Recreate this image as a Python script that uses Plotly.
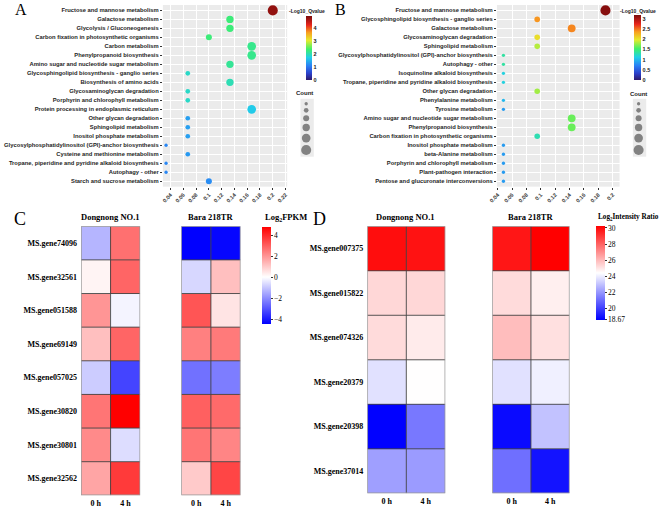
import plotly.graph_objects as go

W, H = 661, 508
def px(x): return x / W
def py(y): return 1 - y / H
def dom_x(a, b): return [px(a), px(b)]
def dom_y(top, bottom): return [py(bottom), py(top)]

SANS = "Liberation Sans, Arial, sans-serif"
SERIF = "Liberation Serif, Times New Roman, serif"

# ---------------- Panel A (KEGG enrichment) ----------------
a_terms = ["Fructose and mannose metabolism", "Galactose metabolism", "Glycolysis / Gluconeogenesis",
           "Carbon fixation in photosynthetic organisms", "Carbon metabolism", "Phenylpropanoid biosynthesis",
           "Amino sugar and nucleotide sugar metabolism", "Glycosphingolipid biosynthesis - ganglio series",
           "Biosynthesis of amino acids", "Glycosaminoglycan degradation", "Porphyrin and chlorophyll metabolism",
           "Protein processing in endoplasmic reticulum", "Other glycan degradation", "Sphingolipid metabolism",
           "Inositol phosphate metabolism", "Glycosylphosphatidylinositol (GPI)-anchor biosynthesis",
           "Cysteine and methionine metabolism", "Tropane, piperidine and pyridine alkaloid biosynthesis",
           "Autophagy - other", "Starch and sucrose metabolism"]
a_ratio = [0.2, 0.133, 0.133, 0.1, 0.167, 0.167, 0.133, 0.067, 0.133, 0.067, 0.067, 0.167, 0.067, 0.067,
           0.067, 0.033, 0.067, 0.033, 0.033, 0.1]
a_count = [6, 4, 4, 3, 5, 5, 4, 2, 4, 2, 2, 5, 2, 2, 2, 1, 2, 1, 1, 3]
a_qval = [4.8, 2.3, 2.3, 2.3, 2.2, 2.2, 2.15, 1.9, 2.0, 1.9, 1.9, 1.7, 1.35, 1.35, 1.35, 1.15, 1.3, 1.15,
          1.15, 1.2]
a_legend_counts = [1, 2, 3, 4, 5, 6]
a_legend_text = ["1", "2", "3", "4", "5", "6"]
a_q_ticks = [0, 1, 2, 3, 4]

# ---------------- Panel B ----------------
b_terms = ["Fructose and mannose metabolism", "Glycosphingolipid biosynthesis - ganglio series",
           "Galactose metabolism", "Glycosaminoglycan degradation", "Sphingolipid metabolism",
           "Glycosylphosphatidylinositol (GPI)-anchor biosynthesis", "Autophagy - other",
           "Isoquinoline alkaloid biosynthesis", "Tropane, piperidine and pyridine alkaloid biosynthesis",
           "Other glycan degradation", "Phenylalanine metabolism", "Tyrosine metabolism",
           "Amino sugar and nucleotide sugar metabolism", "Phenylpropanoid biosynthesis",
           "Carbon fixation in photosynthetic organisms", "Inositol phosphate metabolism",
           "beta-Alanine metabolism", "Porphyrin and chlorophyll metabolism", "Plant-pathogen interaction",
           "Pentose and glucuronate interconversions"]
b_ratio = [0.19, 0.095, 0.143, 0.095, 0.095, 0.048, 0.048, 0.048, 0.048, 0.095, 0.048, 0.048, 0.143, 0.143,
           0.095, 0.048, 0.048, 0.048, 0.048, 0.048]
b_count = [4, 2, 3, 2, 2, 1, 1, 1, 1, 2, 1, 1, 3, 3, 2, 1, 1, 1, 1, 1]
b_qval = [3.15, 2.4, 2.45, 2.05, 1.85, 1.35, 1.35, 1.15, 1.15, 1.8, 1.0, 0.85, 1.65, 1.65, 1.3, 0.85, 0.85,
          0.85, 0.85, 0.85]
b_legend_counts = [1, 1.6, 2.2, 2.8, 3.4, 4]
b_legend_text = ["1", "1.6", "2.2", "2.8", "3.4", "4"]
b_q_ticks = [0, 0.5, 1, 1.5, 2, 2.5, 3]

# ---------------- Panel C (Log2 FPKM heatmaps) ----------------
c_genes = ["MS.gene74096", "MS.gene32561", "MS.gene051588", "MS.gene69149", "MS.gene057025",
           "MS.gene30820", "MS.gene30801", "MS.gene32562"]
c_dong_0h = [-1.3, 0.2, 2.0, 1.2, -0.9, 2.6, 2.2, 1.7]
c_dong_4h = [2.7, 2.9, -0.2, 2.9, -3.3, 4.8, -0.6, 3.7]
c_bara_0h = [-4.5, -0.7, 3.2, 2.4, -2.5, 3.0, 2.6, 1.0]
c_bara_4h = [-4.4, 1.2, 0.5, 2.5, -2.3, 2.8, 2.3, 3.5]
c_ticks = [-4, -2, 0, 2, 4]

# ---------------- Panel D (Log2 intensity ratio heatmaps) ----------------
d_genes = ["MS.gene007375", "MS.gene015822", "MS.gene074326", "MS.gene20379", "MS.gene20398", "MS.gene37014"]
d_dong_0h = [30.0, 25.4, 25.3, 23.8, 18.7, 22.3]
d_dong_4h = [29.9, 25.4, 24.95, 24.5, 21.4, 22.2]
d_bara_0h = [29.8, 25.3, 26.0, 23.8, 18.9, 21.2]
d_bara_4h = [30.3, 24.85, 25.2, 24.15, 23.1, 19.1]
d_ticks = [18.67, 20, 22, 24, 26, 28, 30]
d_tick_text = ["18.67", "20", "22", "24", "26", "28", "30"]

time_labels = ["0 h", "4 h"]
groups = ["Dongnong NO.1", "Bara 218TR"]

jet = [[0.0, "#2e1a6b"], [0.1, "#2b3fc9"], [0.22, "#2a7ff5"], [0.35, "#22cfe8"], [0.48, "#3ff06a"],
       [0.62, "#e6ea2c"], [0.74, "#f8a020"], [0.86, "#e8251c"], [1.0, "#7a0b0b"]]

DMIN, DMAX = 3.3, 10.05
def dot_size(c, cmin, cmax):
    return DMIN + (c - cmin) / (cmax - cmin) * (DMAX - DMIN)

fig = go.Figure()

# ---- scatter A & B ----
for terms, ratio, count, q, xa, ya, cax in [
        (a_terms, a_ratio, a_count, a_qval, "x", "y", "coloraxis3"),
        (b_terms, b_ratio, b_count, b_qval, "x2", "y2", "coloraxis4")]:
    cmin, cmax = min(count), max(count)
    fig.add_trace(go.Scatter(
        x=ratio, y=list(range(len(terms))), mode="markers",
        marker=dict(size=[dot_size(c, cmin, cmax) for c in count], color=q, coloraxis=cax,
                    line=dict(width=0), opacity=1),
        xaxis=xa, yaxis=ya, showlegend=False, hoverinfo="skip"))

# ---- size legends ----
def legend_y(sizes):
    ys, acc = [], 2.0
    for s in sizes:
        h = s + 2.6
        ys.append(acc + h / 2)
        acc += h
    return ys

for vals, txt, data_counts, xa, ya in [
        (a_legend_counts, a_legend_text, a_count, "x3", "y3"),
        (b_legend_counts, b_legend_text, b_count, "x4", "y4")]:
    cmin, cmax = min(data_counts), max(data_counts)
    sizes = [dot_size(v, cmin, cmax) for v in vals]
    ys = legend_y(sizes)
    fig.add_trace(go.Scatter(x=[5.8] * len(vals), y=ys, mode="markers",
                             marker=dict(size=sizes, color="#555555", line=dict(width=0)),
                             xaxis=xa, yaxis=ya, showlegend=False, hoverinfo="skip"))
    fig.add_trace(go.Scatter(x=[14.2] * len(vals), y=ys, mode="text", text=txt,
                             textposition="middle right", cliponaxis=False,
                             textfont=dict(family=SANS, size=5.5, color="#222", weight="bold"),
                             xaxis=xa, yaxis=ya, showlegend=False, hoverinfo="skip"))

# ---- heatmaps ----
heat_sets = [
    (c_genes, c_dong_0h, c_dong_4h, "x5", "y5", "coloraxis"),
    (c_genes, c_bara_0h, c_bara_4h, "x6", "y6", "coloraxis"),
    (d_genes, d_dong_0h, d_dong_4h, "x7", "y7", "coloraxis2"),
    (d_genes, d_bara_0h, d_bara_4h, "x8", "y8", "coloraxis2"),
]
shapes = []
for genes, v0, v4, xa, ya, cax in heat_sets:
    z = [[a, b] for a, b in zip(v0, v4)]
    fig.add_trace(go.Heatmap(z=z, x=list(range(len(time_labels))), y=list(range(len(genes))),
                             coloraxis=cax, xaxis=xa, yaxis=ya, hoverinfo="skip"))
    nr, nc = len(genes), len(time_labels)
    for j in range(1, nr):
        shapes.append(dict(type="line", xref=xa, yref=ya, x0=-0.5, x1=nc - 0.5, y0=j - 0.5, y1=j - 0.5,
                           line=dict(color="#444444", width=0.9), layer="above"))
    for i in range(1, nc):
        shapes.append(dict(type="line", xref=xa, yref=ya, x0=i - 0.5, x1=i - 0.5, y0=-0.5, y1=nr - 0.5,
                           line=dict(color="#444444", width=0.9), layer="above"))
    shapes.append(dict(type="rect", xref=xa, yref=ya, x0=-0.5, x1=nc - 0.5, y0=-0.5, y1=nr - 0.5,
                       line=dict(color="#9a9a9a", width=1.4), layer="above"))

# ---------------- layout ----------------
tick_sans = dict(family=SANS, size=5.8, color="#1e1e1e", weight="bold")
xtick_sans = dict(family=SANS, size=5.5, color="#3a3a3a", weight="bold")

def scatter_x(dom, rng):
    return dict(domain=dom, range=rng, tick0=0.04, dtick=0.02, tickangle=-45, ticks="outside",
                ticklen=2, tickwidth=0.6, tickcolor="#333", tickfont=xtick_sans, showgrid=True,
                gridcolor="white", gridwidth=0.6, zeroline=False, showline=False)

def scatter_y(dom, terms, anchor):
    return dict(domain=dom, range=[len(terms) - 0.4, -0.6], tickvals=list(range(len(terms))),
                ticktext=terms, ticks="outside", ticklen=2, tickwidth=0.6, tickcolor="#333",
                tickfont=tick_sans, showgrid=True, gridcolor="white", gridwidth=0.6, zeroline=False,
                anchor=anchor)

def legend_x(dom):
    return dict(domain=dom, range=[0, dom[1] * W - dom[0] * W], visible=False, fixedrange=True)

def legend_yax(dom):
    return dict(domain=dom, range=[(dom[1] - dom[0]) * H, 0], visible=False, fixedrange=True)

row_font = dict(family=SERIF, size=8, color="black", weight="bold")
col_font = dict(family=SERIF, size=8, color="black", weight="bold")

def heat_x(dom, anchor):
    return dict(domain=dom, range=[-0.5, 1.5], tickvals=[0, 1], ticktext=time_labels, ticks="",
                tickfont=col_font, showgrid=False, zeroline=False, showline=False, anchor=anchor,
                ticklabelstandoff=2)

def heat_y(dom, genes, anchor, show):
    return dict(domain=dom, range=[len(genes) - 0.5, -0.5], tickvals=list(range(len(genes))),
                ticktext=genes, ticks="", tickfont=row_font, showticklabels=show, showgrid=False,
                zeroline=False, showline=False, anchor=anchor, ticklabelstandoff=3)

def cbar(left, top, length, thick, tickvals, ticktext=None, font=None, ticks="", ticklen=0):
    d = dict(x=px(left), xanchor="left", y=py(top), yanchor="top", len=length, lenmode="pixels",
             thickness=thick, thicknessmode="pixels", xpad=0, ypad=0, outlinewidth=0,
             tickvals=tickvals, ticks=ticks, ticklen=ticklen, tickwidth=0.6, tickcolor="#333",
             tickfont=font)
    if ticktext is not None:
        d["ticktext"] = ticktext
    return d

cb_sans = dict(family=SANS, size=5.5, color="#222", weight="bold")
cb_serif = dict(family=SERIF, size=7.5, color="black")

c_lo, c_hi = -4.5, 4.8
c_mid = (0 - c_lo) / (c_hi - c_lo)

fig.update_layout(
    width=W, height=H, margin=dict(l=0, r=0, t=0, b=0), paper_bgcolor="white",
    plot_bgcolor="#EBEBEB", showlegend=False,
    xaxis=scatter_x(dom_x(157, 283), [0.028, 0.2225]),
    yaxis=scatter_y(dom_y(5, 187), a_terms, "x"),
    xaxis2=dict(scatter_x(dom_x(495.7, 620), [0.039, 0.2096]), anchor="y2"),
    yaxis2=scatter_y(dom_y(5, 187), b_terms, "x2"),
    xaxis3=dict(legend_x(dom_x(296.5, 310)), anchor="y3"),
    yaxis3=dict(legend_yax(dom_y(99, 157)), anchor="x3"),
    xaxis4=dict(legend_x(dom_x(633.5, 647)), anchor="y4"),
    yaxis4=dict(legend_yax(dom_y(99, 157)), anchor="x4"),
    xaxis5=heat_x(dom_x(74, 134), "y5"), yaxis5=heat_y(dom_y(226.7, 496.3), c_genes, "x5", True),
    xaxis6=heat_x(dom_x(175.7, 235.7), "y6"), yaxis6=heat_y(dom_y(226.7, 496.3), c_genes, "x6", False),
    xaxis7=heat_x(dom_x(364.3, 443.3), "y7"), yaxis7=heat_y(dom_y(226.7, 494.3), d_genes, "x7", True),
    xaxis8=heat_x(dom_x(491, 569.3), "y8"), yaxis8=heat_y(dom_y(226.7, 494.3), d_genes, "x8", False),
    coloraxis=dict(cmin=c_lo, cmax=c_hi,
                   colorscale=[[0, "#0000FF"], [c_mid, "#FFFFFF"], [1, "#FF0000"]],
                   colorbar=cbar(258, 227.7, 97.3, 9, c_ticks, font=cb_serif, ticks="outside", ticklen=2)),
    coloraxis2=dict(cmin=18.67, cmax=30.3,
                    colorscale=[[0, "#0000FF"], [0.5, "#FFFFFF"], [1, "#FF0000"]],
                    colorbar=cbar(595.7, 226, 94, 9.3, d_ticks, d_tick_text, font=cb_serif,
                                  ticks="outside", ticklen=2)),
    coloraxis3=dict(cmin=0, cmax=4.95, colorscale=jet,
                    colorbar=cbar(301.7, 16, 64, 6, a_q_ticks, font=cb_sans)),
    coloraxis4=dict(cmin=0, cmax=3.2, colorscale=jet,
                    colorbar=cbar(635, 15, 65, 6.5, b_q_ticks, font=cb_sans)),
    shapes=shapes,
)

ann = []
def add_text(text, x, y, font, xanchor="center", yanchor="middle"):
    ann.append(dict(text=text, x=px(x), y=py(y), xref="paper", yref="paper", showarrow=False,
                    xanchor=xanchor, yanchor=yanchor, font=font))

letter_font = dict(family=SERIF, size=16, color="black")
add_text("A", 13, 10, letter_font)
add_text("B", 337.5, 10, letter_font)
add_text("C", 12.5, 219, dict(family=SERIF, size=18, color="black"))
add_text("D", 316, 219, dict(family=SERIF, size=18, color="black"))

small_bold = dict(family=SANS, size=5, color="#222", weight="bold")
add_text("-Log10_Qvalue", 303, 11.5, small_bold)
add_text("-Log10_Qvalue", 639, 11.5, small_bold)
add_text("Count", 300.5, 92.7, dict(family=SANS, size=6, color="#222", weight="bold"))
add_text("Count", 639.5, 94.3, dict(family=SANS, size=6, color="#222", weight="bold"))

title_font = dict(family=SERIF, size=8.5, color="black", weight="bold")
add_text(groups[0], 104, 217, title_font)
add_text(groups[1], 205.7, 217, title_font)
add_text(groups[0], 403.3, 217, title_font)
add_text(groups[1], 530, 217, title_font)
add_text("Log<sub>2</sub>FPKM", 259, 218, title_font, xanchor="left")
add_text("Log<sub>2</sub>Intensity Ratio", 596, 218, dict(family=SERIF, size=7.2, color="black", weight="bold"),
         xanchor="left")

fig.update_layout(annotations=ann)
fig.write_html("out.html")
